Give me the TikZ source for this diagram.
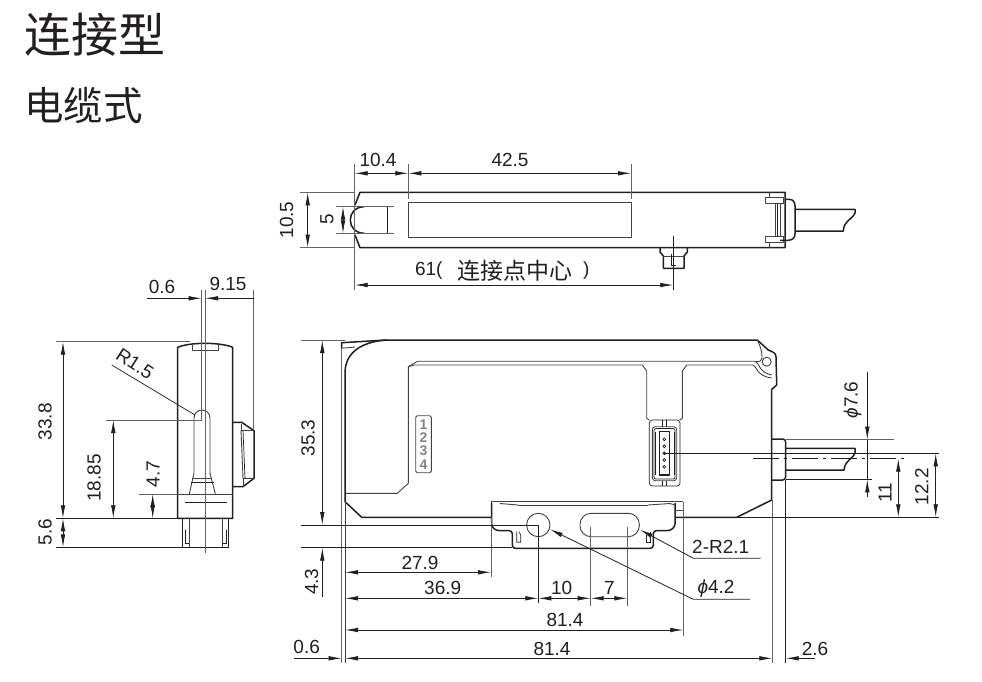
\documentclass[tikz,border=0pt]{standalone}
\usepackage{fontspec}
\setmainfont{Liberation Sans}
\newfontfamily\cjk{Noto Sans CJK SC}
\usetikzlibrary{arrows.meta}
\definecolor{ink}{HTML}{231F20}
\tikzset{
  obj/.style={draw=ink,line width=1.5pt,line join=round},
  mid/.style={draw=ink!85,line width=0.9pt,line join=round},
  fine/.style={draw=ink,line width=0.7pt},
  ext/.style={draw=ink!70,line width=0.9pt},
  tipa/.tip={Latex[length=13pt,width=4.6pt]},
  dimb/.style={draw=ink,line width=0.8pt,tipa-tipa},
  dims/.style={draw=ink,line width=0.8pt,-tipa},
  lab/.style={font=\fontsize{19}{20}\selectfont,text=ink,inner sep=0pt,outer sep=0pt},
  labv/.style={lab,rotate=90},
  plate/.style={inner sep=0pt,font=\bfseries\fontsize{14}{15}\selectfont,text=ink!55},
  ttl/.style={font=\cjk\fontsize{47}{49}\selectfont,text=ink,inner sep=0pt,anchor=west},
  tts/.style={font=\cjk\fontsize{39.5}{41}\selectfont,text=ink,inner sep=0pt,anchor=west},
}
\begin{document}
\begin{tikzpicture}[x=1pt,y=-1pt]
\useasboundingbox (0,0) rectangle (982,681);
\fill[white] (0,0) rectangle (982,681);
% titles
\node[ttl] (t1) at (24,35) {连接型};
\node[tts] (t2) at (24,106) {电缆式};

% ---------- top view ----------
\path[obj] (355,205) -- (360,192.3) -- (785,192.3) -- (785,247.7) -- (360,247.7) -- (355,235);
\path[mid] (408.3,202.7) rectangle (631,237.3);
\path[obj] (364.3,206.7) .. controls (355,207) and (350.3,213) .. (350.3,220) .. controls (350.3,227) and (355,233) .. (364.3,233.3);
\path[fine] (387,206.7) -- (387,233.3);
\path[ext] (335.7,206.7) -- (394,206.7);
\path[ext] (335.7,233.3) -- (394,233.3);
% clip and strain relief
\path[mid] (765.7,197.7) rectangle (783,203.3);
\path[mid] (765.7,236.7) rectangle (783,242.3);
\path[mid] (769.5,192.3) -- (769.5,197.7);
\path[mid] (769.5,242.3) -- (769.5,247.7);
\path[mid] (775.7,203.3) -- (775.7,236.7);
\path[fine] (777.7,203.3) -- (777.7,236.7);
\path[mid] (780,203.3) -- (780,236.7);
\path[obj] (785,199.3) -- (789,199.3) .. controls (793,199.3) and (795,202) .. (795,206) -- (795,234) .. controls (795,238) and (792,240.3) .. (788,240.3) -- (780,240.3);
\path[obj] (795,209.3) -- (855,209.3) -- (855,213) .. controls (852,220) and (844,220) .. (843.3,231) -- (795,231);
% bottom connector
\path[obj] (660,247.7) -- (660,252) -- (663.3,256) -- (663.3,268.3) -- (684,268.3) -- (684,256) -- (687.3,252) -- (687.3,247.7);
\path[mid] (663.3,256) -- (684,256);
\path[fine] (671,254) -- (671,265.7) -- (676,265.7);
\path[fine] (673.3,236) -- (673.3,290);
% dimensions
\path[ext] (354.7,164) -- (354.7,290);
\path[ext] (408.3,164) -- (408.3,199);
\path[ext] (631,164) -- (631,199);
\path[ext] (300,192.3) -- (355,192.3);
\path[ext] (300,247.7) -- (355,247.7);
\path[dimb] (354.7,173.3) -- (408.3,173.3);
\path[dimb] (408.3,173.3) -- (631,173.3);
\path[dimb] (307.7,192.3) -- (307.7,247.7);
\path[dimb] (343,206.7) -- (343,233.3);
\path[dimb] (354.7,285) -- (673.3,285);
\node[lab] (d104) at (378,160) {10.4};
\node[lab] (d425) at (510,160) {42.5};
\node[labv] (d105) at (286.7,220) {10.5};
\node[labv] (d5) at (327,219.5) {5};
\node[lab,anchor=west] (d61) at (415,271) {61(};
\node[lab,anchor=west,font=\cjk\fontsize{23}{24}\selectfont] (d61b) at (457,271) {连接点中心};
\node[lab,anchor=west] (d61c) at (583,271) {)};

% ---------- left view ----------
\path[obj] (177.7,518.3) -- (177.7,347.3) .. controls (190,342) and (220,342) .. (232.7,347.3) -- (232.7,518.3) -- cycle;
\path[mid] (177.7,494) -- (232.7,494);
\path[mid] (192.3,344.5) -- (192.3,350) -- (218.7,350) -- (218.7,344.5);
\path[mid] (194,473) -- (194,418) .. controls (194,407.5) and (210,407.5) .. (210,418) -- (210,473);
\path[mid] (194,473) -- (189.3,494);
\path[mid] (210,473) -- (215.3,494);
\path[mid] (192,478.3) -- (212,478.3);
\path[fine] (190.5,482.7) -- (214,482.7);
\path[fine] (185,502.3) -- (226.7,502.3);
\path[obj] (232.7,422.3) -- (241.7,422.3) -- (254,430.7) -- (254,478.3) -- (243,486.7) -- (232.7,486.7);
\path[mid] (241,424) -- (241,430) -- (254,430);
\path[mid] (241,430) -- (243,478.3) -- (254,478.3);
\path[fine] (243,430) -- (245,478.3);
\path[mid] (243,478.3) -- (243,486.7);
\path[obj] (182.7,518.3) -- (182.7,547.3) -- (228.3,547.3) -- (228.3,518.3);
\path[mid] (189,518.3) -- (189,547.3);
\path[mid] (222.7,518.3) -- (222.7,547.3);
\path[fine] (185,530) -- (185,543) -- (189,543);
\path[fine] (226,530) -- (226,543) -- (222.7,543);
% centre lines
\path[ext] (201.7,290) -- (201.7,420);
\path[ext] (205,290) -- (205,552.7);
\path[ext] (253.7,290) -- (253.7,430);
\path[ext] (56,341.7) -- (190,341.7);
\path[fine] (56,518.3) -- (177.7,518.3);
\path[fine] (56,547.3) -- (182.7,547.3);
\path[ext] (106,420) -- (202,420);
\path[ext] (139.3,494) -- (177.7,494);
\path[dims] (147,298.3) -- (201.7,298.3);
\path[dims] (253.7,298.3) -- (205,298.3);
\path[dimb] (63,341.7) -- (63,518.3);
\path[dimb] (63,518.3) -- (63,547.3);
\path[dimb] (113.3,420) -- (113.3,518.3);
\path[dimb] (152.7,494) -- (152.7,518.3);
\path[fine] (111.7,365) -- (195,415);
\node[lab] (l06) at (162,287) {0.6};
\node[lab] (l915) at (228,284) {9.15};
\node[lab,rotate=-33] (lr15) at (135,364) {R1.5};
\node[labv] (l338) at (45,421.7) {33.8};
\node[labv] (l1885) at (94,478) {18.85};
\node[labv] (l47) at (153,474) {4.7};
\node[labv] (l56) at (45,532) {5.6};

% ---------- front view ----------
% outer body
\path[obj] (491,517.3) -- (361.7,517.3) -- (345,501.7) -- (345,373) .. controls (345,355) and (358,342) .. (386.7,340) -- (757.3,340) -- (768.3,350) .. controls (773,352) and (776,353) .. (776,357) -- (776.7,385) -- (771.7,389.3) -- (771.7,500) -- (736.7,517.3) -- (675,517.3);
\path[obj] (341.7,348.3) -- (341.7,342.7) -- (386.7,340);
\path[mid] (341.7,348.3) -- (355,347);
\path[ext] (341.7,348) -- (341.7,663);
\path[mid] (345,501.7) -- (345,663);
\path[mid] (757.3,340) .. controls (760,346) and (762,350) .. (762,358) .. controls (760,364) and (758,360) .. (755,361.7);
\path[mid] (766.7,361.7) circle[radius=4.5pt];
% inner panel
\path[mid] (345,493.3) -- (397.3,493.3) -- (408.3,483.3) -- (408.3,366.7) -- (417.7,361.2) -- (755,361.2) .. controls (760,363) and (758,372) .. (771.7,375);
\path[mid] (408.3,366.7) -- (414,365) -- (642.3,365) -- (646.7,371) -- (646.7,418.3) -- (649.3,420);
\path[mid] (680,420) -- (682.3,418.3) -- (682.3,371) -- (686.7,365) -- (753,365) .. controls (757,366) and (756,376) .. (771.7,378);
% socket
\path[fine,rounded corners=3pt] (649.3,420) rectangle (680,486);
\path[mid,rounded corners=3pt] (652.3,426.7) rectangle (676.7,480.7);
\path[fine,rounded corners=2pt] (654,428.5) rectangle (675,479);
\path[obj] (659.3,431.7) rectangle (669.3,475);
\path[fine] (655,431.7) -- (655,475);
\path[fine] (674,431.7) -- (674,475);
\path[fine] (662.3,420) -- (662.3,426.7);
\path[fine] (666.3,420) -- (666.3,426.7);
\path[fine] (662.3,480.7) -- (662.3,485.5);
\path[fine] (666.3,480.7) -- (666.3,485.5);
\foreach \yy in {439.3,446.3,453.3,460,466.7}
  \path[fine] (664.3,\yy) circle[radius=1.4pt];
% number plate
\path[mid,rounded corners=1.5pt] (415.7,415.7) rectangle (431.3,472.7);
\node[plate] (n1) at (423.5,425) {1};
\node[plate] (n2) at (423.5,437.3) {2};
\node[plate] (n3) at (423.5,450.5) {3};
\node[plate] (n4) at (423.5,464.3) {4};
% cable
\path[obj,rounded corners=3pt] (771.7,439) -- (785.7,439) -- (785.7,480) -- (771.7,480);
\path[obj] (785.7,448.3) -- (855,448.3) -- (855,453) .. controls (852,460) and (845,460) .. (844,470) -- (785.7,470);
% bracket
\path[obj,rounded corners=3pt] (491.7,503) -- (491.7,527) -- (496.7,530.7) -- (512.3,530.7) -- (512.3,548.3) -- (653.3,548.3) -- (653.3,530.7) -- (670,530.7) -- (675,526.7) -- (675,503);
\path[mid] (491.7,503) -- (491.7,501.7) -- (683.3,501.7);
\path[mid] (518,505) -- (648,505);
\path[mid] (500,503.5) -- (518,505);
\path[mid] (648,505) -- (670,503.5) -- (675,505);
\path[mid] (675,510) -- (683.3,510);
\path[fine] (516.7,531.7) -- (516.7,542.3) -- (520.7,542.3) -- (520.7,535) -- (519,531.7);
\path[fine] (650,531.7) -- (650,542.3) -- (646.7,542.3) -- (646.7,535);
\path[mid] (538.3,525) circle[radius=11.7pt];
\path[mid,rounded corners=11pt] (580,513.3) rectangle (639.3,536.7);
% centre / extension lines
\path[fine] (492,525) -- (538.3,525);
\path[fine] (538.3,525) -- (538.3,603);
\path[ext] (590.7,526.7) -- (590.7,605.7);
\path[ext] (627.3,526.7) -- (627.3,605.7);
\path[ext] (491,517.3) -- (491,577.3);
\path[ext] (683.3,501.7) -- (683.3,636);
\path[ext] (300.7,340) -- (345,340);
\path[fine] (300.7,525) -- (491.7,525);
\path[fine] (300.7,547.7) -- (512.3,547.7);
\path[ext] (772.3,500) -- (772.3,663);
\path[fine] (785.7,480) -- (785.7,663);
\path[fine] (664.3,453.3) -- (939.3,453.3);
\path[fine,dash pattern=on 26pt off 5pt on 3pt off 5pt] (753.3,458.7) -- (905,458.7);
\path[ext] (785.7,439.7) -- (894.3,439.7);
\path[fine] (785.7,479.3) -- (871.7,479.3);
\path[fine] (736.7,517.3) -- (939.3,517.3);
% dimensions
\path[dimb] (322.3,340) -- (322.3,525);
\path[dims] (322.3,597.3) -- (322.3,547.7);
\path[dims] (867.3,371.7) -- (867.3,439.7);
\path[fine] (867.3,439.7) -- (867.3,479.3);
\path[dims] (867.3,496.7) -- (867.3,479.3);
\path[dimb] (898.3,458.7) -- (898.3,517.3);
\path[dimb] (935.7,453.3) -- (935.7,517.3);
\path[dimb] (345,572.3) -- (491,572.3);
\path[dimb] (345,598.3) -- (538.3,598.3);
\path[dimb] (538.3,598.3) -- (590.7,598.3);
\path[dimb] (590.7,598.3) -- (627.3,598.3);
\path[dimb] (345,630) -- (683.3,630);
\path[dimb] (345,658.3) -- (772.3,658.3);
\path[dims] (294.3,658.3) -- (341.7,658.3);
\path[dims] (815,658.3) -- (785.7,658.3);
\path[draw=ink,line width=0.8pt,tipa-] (550,529.3) -- (693.3,599.3) -- (750,599.3);
\path[draw=ink,line width=0.8pt,tipa-] (640,529.7) -- (693.3,558.3) -- (760.7,558.3);
\node[labv] (f353) at (308,438) {35.3};
\node[labv] (f43) at (311.7,581.7) {4.3};
\node[lab] (f279) at (420,563) {27.9};
\node[lab] (f369) at (442.7,588.3) {36.9};
\node[lab] (f10) at (561.7,588.3) {10};
\node[lab] (f7) at (609.3,588.3) {7};
\node[lab] (f814a) at (565,620) {81.4};
\node[lab] (f814b) at (552,649) {81.4};
\node[lab] (f06) at (306.7,646.7) {0.6};
\node[lab] (f26) at (815,649.3) {2.6};
\node[lab] (f2r) at (720.7,547.3) {2-R2.1};
\node[lab] (f42) at (716,588.7) {\textit{ϕ}4.2};
\node[labv] (f76) at (852.7,400) {\textit{ϕ}7.6};
\node[labv] (f11) at (885,493) {11};
\node[labv] (f122) at (921.7,486.7) {12.2};
\end{tikzpicture}
\end{document}
